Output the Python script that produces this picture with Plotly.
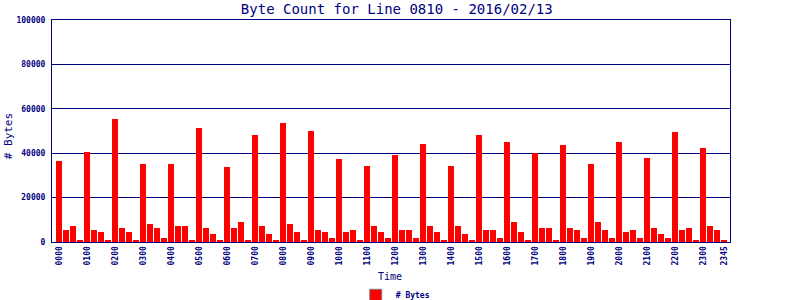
import plotly.graph_objects as go

title_text = "Byte Count for Line 0810 - 2016/02/13"

# 15-minute slots 0000..2345
slots = [f"{h:02d}{m:02d}" for h in range(24) for m in (0, 15, 30, 45)]

byte_counts = [
    36600, 5600, 7000, 1100,   # 00
    40700, 5600, 4700, 1100,   # 01
    55500, 6100, 4700, 1100,   # 02
    35300, 8300, 6500, 1600,   # 03
    35300, 7000, 7000, 1100,   # 04
    51500, 6500, 3800, 1100,   # 05
    33900, 6100, 9200, 1100,   # 06
    48300, 7000, 3800, 700,    # 07
    53700, 7900, 4300, 700,    # 08
    50100, 5600, 4700, 1600,   # 09
    37500, 4700, 5200, 1100,   # 10
    34400, 7000, 4700, 1600,   # 11
    39300, 5200, 5600, 1600,   # 12
    44300, 7000, 4300, 700,    # 13
    34400, 7000, 3800, 1100,   # 14
    48300, 5600, 5200, 1600,   # 15
    45200, 9200, 4300, 1100,   # 16
    40200, 6100, 6100, 1100,   # 17
    43800, 6100, 5200, 1600,   # 18
    35300, 8800, 5200, 1600,   # 19
    45200, 4300, 5600, 1600,   # 20
    38000, 6100, 3400, 1600,   # 21
    49700, 5200, 6100, 1100,   # 22
    42500, 7400, 5200, 700,    # 23
]

tick_labels = [f"{h:02d}00" for h in range(24)] + ["2345"]
tick_positions = [slots.index(t) for t in tick_labels]

y_ticks = [0, 20000, 40000, 60000, 80000, 100000]

NAVY = "#000080"
RED = "#ff0000"
FONT = "DejaVu Sans Mono"

x_idx = list(range(len(slots)))

fig = go.Figure()
fig.add_trace(go.Bar(
    x=x_idx, y=byte_counts, width=6/7,
    marker=dict(color=RED, line=dict(width=0)),
    name="# Bytes", showlegend=False,
    hovertext=slots,
))
# legend entry (styled swatch with grey border)
fig.add_trace(go.Bar(
    x=[None], y=[None], name="# Bytes",
    marker=dict(color=RED, line=dict(color="#808080", width=1)),
    showlegend=True,
))

fig.update_layout(
    width=800, height=300,
    margin=dict(l=52, r=70, t=20, b=57.5, autoexpand=False),
    paper_bgcolor="white", plot_bgcolor="white",
    bargap=0,
    title=dict(text=title_text, x=0.496, xanchor="center", y=0.97, yanchor="middle",
               font=dict(family=FONT, size=14, color=NAVY)),
    xaxis=dict(
        range=[-1, 95.857],
        tickmode="array", tickvals=tick_positions, ticktext=tick_labels,
        tickangle=-90, ticks="", automargin=False,
        tickfont=dict(family=FONT, size=8, color=NAVY, weight="bold"),
        showgrid=False, zeroline=False,
        showline=True, linecolor=NAVY, linewidth=1, mirror=True,
    ),
    yaxis=dict(
        range=[0, 100000],
        tickmode="array", tickvals=y_ticks, tickformat="d",
        ticks="", ticklabelstandoff=4, automargin=False,
        tickfont=dict(family=FONT, size=8, color=NAVY, weight="bold"),
        showgrid=True, gridcolor=NAVY, gridwidth=1, zeroline=False,
        showline=True, linecolor=NAVY, linewidth=1, mirror=True,
    ),
    legend=dict(
        orientation="h", x=0.448, xanchor="left", y=-0.24, yanchor="middle",
        font=dict(family=FONT, size=8, color=NAVY, weight="bold"),
        bgcolor="rgba(0,0,0,0)", itemwidth=30,
    ),
    annotations=[
        dict(text="# Bytes", xref="paper", yref="paper",
             x=(8 - 52) / 678, y=(242.5 - 136.5) / 222.5,
             xanchor="center", yanchor="middle", textangle=-90, showarrow=False,
             font=dict(family=FONT, size=11, color=NAVY)),
        dict(text="Time", xref="paper", yref="paper",
             x=(389.5 - 52) / 678, y=(242.5 - 277.5) / 222.5,
             xanchor="center", yanchor="middle", showarrow=False,
             font=dict(family=FONT, size=10, color=NAVY)),
    ],
)

fig.write_html("out.html")
